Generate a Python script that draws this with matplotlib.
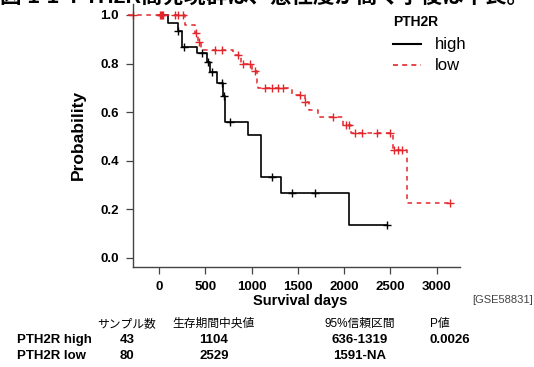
import numpy as np
import matplotlib
matplotlib.use("Agg")
import matplotlib.pyplot as plt

plt.rcParams['font.family'] = ['Liberation Sans', 'Noto Sans CJK JP']

# ----------------- DATA -----------------
# PTH2R high (solid black): step times (days) and survival probability
high_t = [0, 97, 205, 248, 410, 518, 551, 626, 691, 713, 961, 1104, 1319, 2052, 2462]
high_s = [1.0, 0.968, 0.935, 0.87, 0.845, 0.805, 0.765, 0.72, 0.665, 0.56, 0.505, 0.334, 0.268, 0.134, 0.134]
high_cens_t = [205, 270, 464, 530, 570, 680, 700, 767, 1220, 1436, 1685, 2462]
high_cens_s = [0.935, 0.87, 0.845, 0.805, 0.765, 0.72, 0.665, 0.56, 0.334, 0.268, 0.268, 0.134]

# PTH2R low (dashed red)
low_t = [-335, 281, 389, 420, 450, 800, 890, 1000, 1058, 1069, 1440, 1577, 1620, 1720, 1987, 2074, 2529, 2680, 3143]
low_s = [1.0, 0.96, 0.925, 0.89, 0.855, 0.835, 0.80, 0.77, 0.72, 0.70, 0.67, 0.64, 0.61, 0.58, 0.547, 0.513, 0.443, 0.225, 0.225]
low_cens_t = [-281, 11, 22, 32, 43, 173, 205, 259, 400, 430, 605, 680, 853, 907, 983, 1037,
              1145, 1220, 1285, 1339, 1523, 1577, 1879, 2020, 2052, 2117, 2192, 2354, 2495,
              2540, 2580, 2624, 3143]
low_cens_s = [1, 1, 1, 1, 1, 1, 1, 1, 0.925, 0.89, 0.855, 0.855, 0.835, 0.80, 0.80, 0.77,
              0.70, 0.70, 0.70, 0.70, 0.67, 0.64, 0.58, 0.547, 0.547, 0.513, 0.513, 0.513, 0.513,
              0.443, 0.443, 0.443, 0.225]

x_ticks = [0, 500, 1000, 1500, 2000, 2500, 3000]
y_ticks = [0.0, 0.2, 0.4, 0.6, 0.8, 1.0]

table_header = ["サンプル数", "生存期間中央値", "95%信頼区間", "P値"]
table_rows = [
    ["PTH2R high", "43", "1104", "636-1319", "0.0026"],
    ["PTH2R low", "80", "2529", "1591-NA", ""],
]
title_text = "図 1-1  PTH2R高発現群は、悪性度が高く予後は不良。"
# ----------------------------------------

W, H = 534, 367
fig = plt.figure(figsize=(W / 100, H / 100), dpi=100)

def fx(px):
    return px / W

def fy(py):
    return 1 - py / H

ax = fig.add_axes([fx(133), fy(267), fx(460) - fx(133), fy(4) - fy(267)])

RED = "#E3262C"
ax.step(high_t, high_s, where="post", color="black", lw=1.2, clip_on=False)
ax.plot(high_cens_t, high_cens_s, "+", color="black", ms=6, mew=1.0, clip_on=False)
ax.step(low_t, low_s, where="post", color=RED, lw=1.1, ls=(0, (3, 3)), clip_on=False)
ax.plot(low_cens_t, low_cens_s, "+", color=RED, ms=6, mew=1.0, clip_on=False)

ax.set_xlim(-281, 3251)
ax.set_ylim(-0.0383, 1.0453)
ax.set_xticks(x_ticks)
ax.set_yticks(y_ticks)
ax.set_xticklabels([str(v) for v in x_ticks], fontweight="bold", fontsize=9.5)
ax.set_yticklabels([f"{v:.1f}" for v in y_ticks], fontweight="bold", fontsize=9.5)
ax.tick_params(direction="out", length=5, width=0.9, color="#444444", pad=5)
for side in ["top", "right"]:
    ax.spines[side].set_visible(False)
for side in ["left", "bottom"]:
    ax.spines[side].set_color("#444444")
    ax.spines[side].set_linewidth(1.0)

# axis labels
fig.text(fx(78), fy(135), "Probability", rotation=90, ha="center", va="center",
         fontsize=12.5, fontweight="bold")
fig.text(fx(300), fy(301), "Survival days", ha="center", va="center",
         fontsize=10.5, fontweight="bold")
fig.text(fx(533), fy(300), "[GSE58831]", ha="right", va="center", fontsize=8, color="#444444")

# legend drawn by hand
fig.text(fx(393), fy(22), "PTH2R", ha="left", va="center", fontsize=10, fontweight="bold")
fig.add_artist(plt.Line2D([fx(393), fx(421)], [fy(44), fy(44)], color="black", lw=1.5))
fig.add_artist(plt.Line2D([fx(393), fx(421)], [fy(65), fy(65)], color=RED, lw=1.2, ls=(0, (3, 2.5))))
fig.text(fx(435), fy(44), "high", ha="left", va="center", fontsize=12)
fig.text(fx(435), fy(65), "low", ha="left", va="center", fontsize=12)

# table below the plot
col_x = [17, 127, 214, 360, 430]
row_y = [340, 356]
for j, h in enumerate(table_header):
    ha = "left" if j == 3 else "center"
    fig.text(fx(col_x[j + 1]), fy(324), h, ha=ha, va="center", fontsize=8.5)
for i, row in enumerate(table_rows):
    for j, cell in enumerate(row):
        ha = "left" if j in (0, 4) else "center"
        fig.text(fx(col_x[j]), fy(row_y[i]), cell, ha=ha, va="center", fontsize=9.5, fontweight="bold")

# title, cropped at the top edge as in the source screenshot
fig.text(fx(0), fy(-1.5), title_text, ha="left", va="center", fontsize=15.5, fontweight="bold")

fig.savefig("out.png", dpi=100)
